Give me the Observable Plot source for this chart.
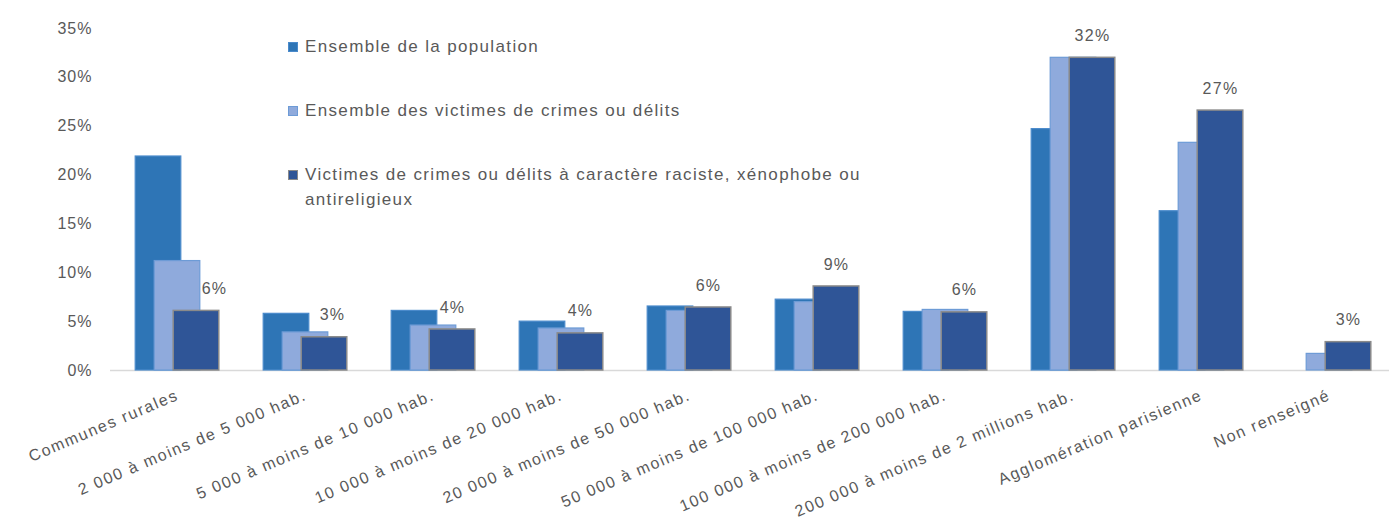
<!DOCTYPE html>
<html>
<head>
<meta charset="utf-8">
<script src="https://cdn.jsdelivr.net/npm/d3@7"></script>
<script src="https://cdn.jsdelivr.net/npm/@observablehq/plot@0.6"></script>
<style>
  body { margin: 0; background: #fff; font-family: "Liberation Sans", Arial, sans-serif; }
  #wrap { position: relative; width: 1389px; height: 531px; overflow: hidden; }
  #legend { position: absolute; left: 250px; top: 20px; width: 650px; height: 190px; background: #fff; }
  .item { position: absolute; left: 38px; font-size: 17px; letter-spacing: 1.35px; line-height: 25px; color: #595959; padding-left: 17px; width: 580px; }
  .sw { position: absolute; left: 0; top: 8px; width: 10px; height: 10px; box-sizing: border-box; }
  g[aria-label="x-axis tick label"] text { letter-spacing: 1.6px; }
  g[aria-label="y-axis tick label"] text { letter-spacing: 1px; }
  g[aria-label="text"] text { letter-spacing: 1.3px; }
</style>
</head>
<body>
<div id="wrap">
  <div id="chart"></div>
  <div id="legend"></div>
</div>
<script>
const categories = [
  "Communes rurales",
  "2 000 à moins de 5 000 hab.",
  "5 000 à moins de 10 000 hab.",
  "10 000 à moins de 20 000 hab.",
  "20 000 à moins de 50 000 hab.",
  "50 000 à moins de 100 000 hab.",
  "100 000 à moins de 200 000 hab.",
  "200 000 à moins de 2 millions hab.",
  "Agglomération parisienne",
  "Non renseigné"
];
const seriesNames = [
  "Ensemble de la population",
  "Ensemble des victimes de crimes ou délits",
  "Victimes de crimes ou délits à caractère raciste, xénophobe ou antireligieux"
];
const population = [21.9, 5.8, 6.1, 5.0, 6.55, 7.25, 6.0, 24.7, 16.3, null];
const victimes   = [11.2, 3.9, 4.6, 4.3, 6.1, 7.0, 6.2, 32.0, 23.3, 1.7];
const racistes   = [6.1, 3.4, 4.2, 3.8, 6.45, 8.6, 5.95, 32.0, 26.6, 2.9];
const yTicks = [0, 5, 10, 15, 20, 25, 30, 35];

const fills   = ["#2E75B6", "#8FAADC", "#2F5597"];
const strokes = ["#4A8ACB", "#6D9BD6", "#8A8A8A"];

const rows = categories.map((c, i) => ({
  category: c,
  population: population[i],
  victimes: victimes[i],
  racistes: racistes[i]
}));

const x0 = 110.8, bandW = 128.4;
const barW = 46, step = 19;
const inset = (bandW - barW) / 2;
const fmt = d => Math.round(d.racistes) + "%";

const chart = Plot.plot({
  width: 1389,
  height: 531,
  marginLeft: 110,
  marginRight: 0,
  marginTop: 28,
  marginBottom: 161,
  style: { fontFamily: "'Liberation Sans', Arial, sans-serif", fontSize: "16px", color: "#595959", background: "#fff", overflow: "visible" },
  x: { type: "band", domain: categories, padding: 0, range: [x0, x0 + bandW * categories.length], label: null },
  y: { domain: [0, 35], label: null },
  marks: [
    Plot.gridY(yTicks, { stroke: "#D9D9D9", strokeOpacity: 1, strokeWidth: 1.2, x1: x0, x2: 1389 }),
    Plot.axisY(yTicks, { tickSize: 0, tickPadding: 18, tickFormat: d => d + "%", fill: "#595959", fontSize: 16, label: null }),
    Plot.axisX({ tickSize: 0, tickPadding: 24, tickRotate: -23, fill: "#595959", fontSize: 16, label: null }),
    Plot.ruleY([0], { stroke: "#D9D9D9", strokeWidth: 1.5 }),
    Plot.barY(rows.filter(d => d.population != null), { x: "category", y: "population", fill: fills[0], stroke: strokes[0], strokeWidth: 1.2, insetLeft: inset, insetRight: inset, dx: -step }),
    Plot.barY(rows, { x: "category", y: "victimes", fill: fills[1], stroke: strokes[1], strokeWidth: 1.2, insetLeft: inset, insetRight: inset }),
    Plot.barY(rows, { x: "category", y: "racistes", fill: fills[2], stroke: strokes[2], strokeWidth: 1.5, insetLeft: inset, insetRight: inset, dx: step }),
    Plot.text(rows.slice(0, 1), { x: "category", y: "racistes", text: fmt, dx: step + 18, dy: -22, fill: "#595959", fontSize: 16 }),
    Plot.text(rows.slice(1, 2), { x: "category", y: "racistes", text: fmt, dx: step + 8, dy: -22, fill: "#595959", fontSize: 16 }),
    Plot.text(rows.slice(2), { x: "category", y: "racistes", text: fmt, dx: step, dy: -22, fill: "#595959", fontSize: 16 })
  ]
});
document.getElementById("chart").appendChild(chart);

const legend = document.getElementById("legend");
const tops = [14, 78, 142];
seriesNames.forEach((name, i) => {
  const item = document.createElement("div");
  item.className = "item";
  item.style.top = tops[i] + "px";
  const sw = document.createElement("span");
  sw.className = "sw";
  sw.style.background = fills[i];
  sw.style.border = "1px solid " + strokes[i];
  item.appendChild(sw);
  item.appendChild(document.createTextNode(name));
  legend.appendChild(item);
});
</script>
</body>
</html>
